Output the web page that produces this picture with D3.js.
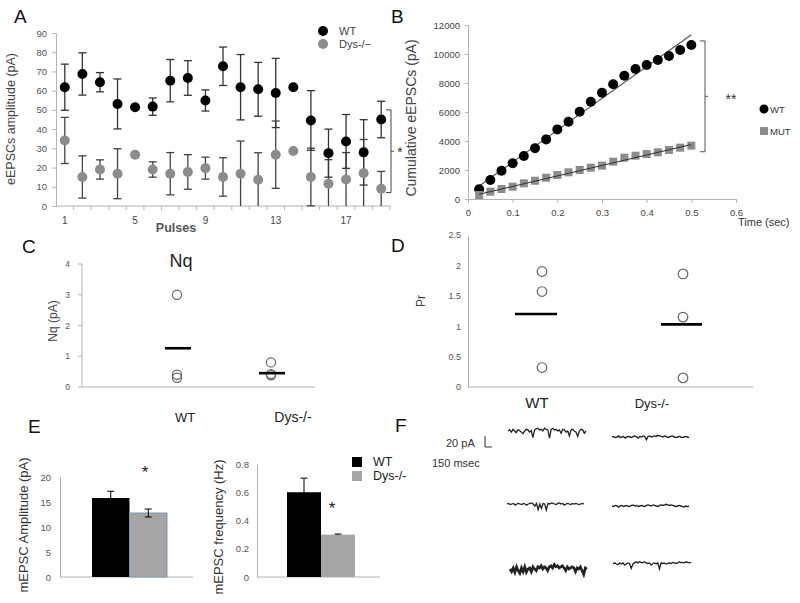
<!DOCTYPE html>
<html><head><meta charset="utf-8">
<script src="https://cdn.jsdelivr.net/npm/d3@7"></script>
<style>body{margin:0;background:#fff}svg{display:block}text{font-family:"Liberation Sans",Arial,sans-serif}</style>
</head><body><svg id="c" width="800" height="603"></svg>
<script>
// ---------- DATA ----------
// Panel A
const pulses = [1,2,3,4,5,6,7,8,9,10,11,12,13,14,15,16,17,18,19];
const pulseTicks = [1,5,9,13,17];
const ampTicks = [0,10,20,30,40,50,60,70,80,90];
const wtAmp = [61.8,68.7,64.4,53.1,51.4,51.7,65.2,66.6,54.9,72.7,61.8,60.7,58.8,61.8,44.5,27.5,33.6,27.9,45.0];
const wtAmpErr = [12,11,5,13,0,4.5,11,9,5.5,10,17,14,18,0,15.5,12.5,14,17,9.5];
const dysAmp = [34.1,15.1,19.0,16.8,26.7,19.0,16.8,17.7,19.7,15.1,16.8,13.7,26.7,28.6,15.1,11.6,13.8,17.1,9.0];
const dysAmpErr = [12,11,5,13,0,4,11,9,5.7,10,17,14,17.5,0,15,12.5,14,17.5,9];
// Panel B
const timeSec = [0.025,0.05,0.075,0.1,0.125,0.15,0.175,0.2,0.225,0.25,0.275,0.3,0.325,0.35,0.375,0.4,0.425,0.45,0.475,0.5];
const wtCum = [670,1310,1950,2460,2970,3500,4110,4800,5330,6020,6710,7330,7910,8500,8970,9240,9590,9860,10280,10620];
const mutCum = [276,506,690,850,1080,1260,1470,1655,1840,2000,2160,2300,2575,2850,2990,3100,3220,3380,3540,3680];
const wtFit = [[0.025,900],[0.5,11330]];
const mutFit = [[0.025,330],[0.5,3760]];
const cumTicks = [0,2000,4000,6000,8000,10000,12000];
const timeTicks = [0,0.1,0.2,0.3,0.4,0.5,0.6];
// Panels C, D
const groups = ["WT","Dys-/-"];
const nqWT = [3.0,0.4,0.3];
const nqDys = [0.8,0.42,0.38];
const nqMean = [1.26,0.45];
const nqTicks = [0,1,2,3,4];
const prWT = [1.9,1.57,0.32];
const prDys = [1.86,1.15,0.15];
const prMean = [1.2,1.03];
const prTicks = [0,0.5,1,1.5,2,2.5];
// Panel E
const ampMean = [15.8,12.8];
const ampErr = [1.35,0.8];
const ampBarTicks = [0,5,10,15,20];
const freqMean = [0.6,0.3];
const freqErr = [0.1,0.004];
const freqTicks = [0,0.2,0.4,0.6,0.8];
// Panel F (traces, pA relative to baseline)
const traceWT1 = [0,2,-2,3,0,-3,2,1,-2,-5,0,3,2,-2,1,-12,2,4,5,2,3,0,5,3,2,-13,3,5,2,3,0,2,-4,3,2,-2,0,-9,2,3,0,-2,-10,0,3,2,-4,0];
const traceDys1 = [0,1,-1,0,2,-1,0,1,-2,0,1,0,-1,1,2,0,-2,1,0,2,1,-5,1,2,0,1,2,1,3,2,1,0,2,1,-1,0,1,2,0,-1,0,1,0,-1,0,1,0,-1];
const traceWT2 = [0,1,-1,0,1,-2,0,1,0,-1,1,0,-2,0,1,2,0,-4,1,-10,0,-8,1,0,-11,1,0,2,1,0,-1,1,2,0,1,-2,0,1,0,-1,1,0,1,0,-1,0,1,0];
const traceDys2 = [0,-1,1,0,-2,0,1,-1,0,1,-1,0,1,2,0,1,-1,0,1,0,-1,1,2,1,0,2,1,0,-1,1,2,1,2,3,2,1,2,1,0,-1,0,1,0,-1,-2,0,-1,0];
const traceWT3 = [0,-5,2,-6,4,-3,-8,2,-5,4,-6,0,2,-5,4,0,-3,4,2,6,0,4,2,-3,4,6,2,8,4,6,2,4,6,2,-3,4,0,2,4,2,-5,2,0,4,-3,-10,2,0];
const traceDys3 = [0,2,0,-1,2,0,2,-2,0,2,1,-8,0,2,4,2,4,3,2,4,2,1,2,-2,1,2,0,2,-9,2,1,2,0,1,2,1,3,2,1,2,4,2,3,2,4,3,2,3];

// ---------- DRAW ----------
const svg = d3.select("#c");
const AX = "#b3b3b3", TT = "#555";

function styleAxis(g, fs){
  g.select(".domain").attr("stroke", AX);
  g.selectAll(".tick line").attr("stroke", AX);
  g.selectAll(".tick text").attr("fill", TT).attr("font-size", fs).attr("font-family","Liberation Sans, Arial, sans-serif");
}
function letter(t,x,y){ svg.append("text").attr("x",x).attr("y",y).attr("font-size",19).attr("fill","#111").text(t); }
function vtitle(t,x,y,fs,col){ svg.append("text").attr("transform",`translate(${x},${y}) rotate(-90)`).attr("text-anchor","middle").attr("font-size",fs).attr("fill",col||"#444").text(t); }

letter("A",14,23); letter("B",391,23); letter("C",22,253); letter("D",391,252); letter("E",28,433); letter("F",395,432);

// ===== Panel A =====
const xA = d3.scaleBand().domain(pulses).range([56,390]);
const yA = d3.scaleLinear().domain([0,90]).range([206,33]);
const gA = svg.append("g");
gA.append("g").attr("transform","translate(56,0)").call(d3.axisLeft(yA).tickValues(ampTicks).tickSize(4).tickPadding(5)).call(styleAxis,9.5);
gA.append("line").attr("x1",56).attr("x2",390).attr("y1",yA(0)).attr("y2",yA(0)).attr("stroke",AX);
gA.selectAll(".xtA").data(pulses).join("line").attr("x1",d=>xA(d)+xA.bandwidth()).attr("x2",d=>xA(d)+xA.bandwidth())
  .attr("y1",yA(0)).attr("y2",yA(0)+4).attr("stroke",AX);
gA.selectAll(".xlA").data(pulseTicks).join("text").attr("x",d=>xA(d)+xA.bandwidth()/2).attr("y",224)
  .attr("text-anchor","middle").attr("font-size",10).attr("fill","#444").text(d=>d);
gA.append("text").attr("x",176).attr("y",232).attr("text-anchor","middle").attr("font-size",12.5).attr("font-weight","bold").attr("fill","#555").text("Pulses");
vtitle("eEPSCs amplitude (pA)",15,119,12.5);

function errBars(g, vals, errs, col){
  pulses.forEach((p,i)=>{
    const e = errs[i]; if(!e) return;
    const cx = xA(p)+xA.bandwidth()/2;
    const lo = Math.max(0, vals[i]-e), hi = vals[i]+e;
    g.append("line").attr("x1",cx).attr("x2",cx).attr("y1",yA(lo)).attr("y2",yA(hi)).attr("stroke",col).attr("stroke-width",1.3);
    g.append("line").attr("x1",cx-4).attr("x2",cx+4).attr("y1",yA(hi)).attr("y2",yA(hi)).attr("stroke",col).attr("stroke-width",1.3);
    if(lo>0) g.append("line").attr("x1",cx-4).attr("x2",cx+4).attr("y1",yA(lo)).attr("y2",yA(lo)).attr("stroke",col).attr("stroke-width",1.3);
  });
}
errBars(gA, dysAmp, dysAmpErr, "#444");
errBars(gA, wtAmp, wtAmpErr, "#333");
gA.selectAll(".dysA").data(dysAmp).join("circle").attr("cx",(d,i)=>xA(pulses[i])+xA.bandwidth()/2).attr("cy",d=>yA(d)).attr("r",5).attr("fill","#8c8c8c");
gA.selectAll(".wtA").data(wtAmp).join("circle").attr("cx",(d,i)=>xA(pulses[i])+xA.bandwidth()/2).attr("cy",d=>yA(d)).attr("r",5).attr("fill","#000");
// legend A
gA.append("circle").attr("cx",323).attr("cy",31).attr("r",5).attr("fill","#000");
gA.append("circle").attr("cx",323).attr("cy",44).attr("r",5).attr("fill","#8c8c8c");
gA.append("text").attr("x",339).attr("y",35).attr("font-size",11).attr("fill","#444").text("WT");
gA.append("text").attr("x",339).attr("y",48).attr("font-size",11).attr("fill","#444").text("Dys-/−");
// bracket A
const bA = gA.append("g").attr("stroke","#444").attr("fill","none");
bA.append("path").attr("d",`M386,${yA(50)}H391V${yA(7)}H386`);
bA.append("line").attr("x1",391).attr("x2",394).attr("y1",(yA(50)+yA(7))/2).attr("y2",(yA(50)+yA(7))/2);
gA.append("text").attr("x",400).attr("y",(yA(50)+yA(7))/2+6).attr("text-anchor","middle").attr("font-size",14).attr("fill","#333").text("*");

// ===== Panel B =====
const xB = d3.scaleLinear().domain([0,0.6]).range([468,736]);
const yB = d3.scaleLinear().domain([0,12000]).range([199,25]);
const gB = svg.append("g");
gB.append("g").attr("transform","translate(468,0)").call(d3.axisLeft(yB).tickValues(cumTicks).tickSize(3).tickPadding(5).tickFormat(d3.format("d"))).call(styleAxis,9.5);
gB.append("g").attr("transform","translate(0,199)").call(d3.axisBottom(xB).tickValues(timeTicks).tickSize(4).tickPadding(6).tickFormat(d=>d===0?"0":d3.format(".1f")(d))).call(styleAxis,9.5);
gB.selectAll(".tick text").attr("fill","#444");
gB.append("text").attr("x",738).attr("y",226).attr("font-size",11).attr("fill","#333").text("Time (sec)");
vtitle("Cumulative eEPSCs (pA)",416,118,14);
gB.append("path").attr("d",d3.line().x(d=>xB(d[0])).y(d=>yB(d[1]))(wtFit)).attr("stroke","#555").attr("fill","none").attr("stroke-width",1.1);
gB.selectAll(".wtB").data(wtCum).join("circle").attr("cx",(d,i)=>xB(timeSec[i])).attr("cy",d=>yB(d)).attr("r",5).attr("fill","#000");
gB.selectAll(".mutB").data(mutCum).join("rect").attr("x",(d,i)=>xB(timeSec[i])-4).attr("y",d=>yB(d)-4).attr("width",8).attr("height",8).attr("fill","#8c8c8c");
gB.append("path").attr("d",d3.line().x(d=>xB(d[0])).y(d=>yB(d[1]))(mutFit)).attr("stroke","#333").attr("fill","none").attr("stroke-width",1.1);
// bracket B
const bB = gB.append("g").attr("stroke","#555").attr("fill","none");
const bt = yB(10900), bb = yB(3260);
bB.append("path").attr("d",`M700,${bt}H705V${bb}H700`);
bB.append("line").attr("x1",705).attr("x2",708).attr("y1",(bt+bb)/2).attr("y2",(bt+bb)/2);
gB.append("text").attr("x",731).attr("y",(bt+bb)/2+8).attr("text-anchor","middle").attr("font-size",14).attr("fill","#333").text("**");
// legend B
gB.append("circle").attr("cx",764).attr("cy",109).attr("r",4.5).attr("fill","#000");
gB.append("text").attr("x",770).attr("y",113).attr("font-size",9.5).attr("fill","#333").text("WT");
gB.append("rect").attr("x",760).attr("y",127).attr("width",8).attr("height",8).attr("fill","#8c8c8c");
gB.append("text").attr("x",770).attr("y",135).attr("font-size",9.5).attr("fill","#333").text("MUT");

// ===== Panel C =====
const xC = d3.scalePoint().domain(groups).range([177,271]);
const yC = d3.scaleLinear().domain([0,4]).range([387,264]);
const gC = svg.append("g");
gC.append("line").attr("x1",82).attr("x2",82).attr("y1",yC(4)).attr("y2",yC(0)).attr("stroke",AX);
gC.append("line").attr("x1",82).attr("x2",315).attr("y1",yC(0)).attr("y2",yC(0)).attr("stroke",AX);
gC.selectAll(".ytC").data(nqTicks).join("line").attr("x1",78).attr("x2",82).attr("y1",d=>yC(d)).attr("y2",d=>yC(d)).attr("stroke",AX);
gC.selectAll(".ylC").data(nqTicks).join("text").attr("x",70).attr("y",d=>yC(d)+3).attr("text-anchor","end").attr("font-size",8.5).attr("fill",TT).text(d=>d);
vtitle("Nq (pA)",57,321,12);
gC.append("text").attr("x",181).attr("y",267).attr("text-anchor","middle").attr("font-size",18).attr("fill","#222").text("Nq");
const nqSets=[nqWT,nqDys];
groups.forEach((g,i)=>{
  gC.selectAll(".c"+i).data(nqSets[i]).join("circle").attr("cx",xC(g)).attr("cy",d=>yC(d)).attr("r",4.6).attr("fill","none").attr("stroke","#666").attr("stroke-width",1.2);
  gC.append("line").attr("x1",xC(g)-12).attr("x2",xC(g)+14).attr("y1",yC(nqMean[i])).attr("y2",yC(nqMean[i])).attr("stroke","#000").attr("stroke-width",2.6);
});
gC.append("text").attr("x",xC("WT")+8).attr("y",422).attr("text-anchor","middle").attr("font-size",13).attr("fill","#222").text("WT");
gC.append("text").attr("x",xC("Dys-/-")+22).attr("y",422).attr("text-anchor","middle").attr("font-size",14).attr("fill","#222").text("Dys-/-");

// ===== Panel D =====
const xD = d3.scalePoint().domain(groups).range([542,683]);
const yD = d3.scaleLinear().domain([0,2.5]).range([387,235]);
const gD = svg.append("g");
gD.append("g").attr("transform","translate(468,0)").call(d3.axisLeft(yD).tickValues(prTicks).tickSize(0).tickPadding(7).tickFormat(d=>d)).call(styleAxis,9);
gD.append("line").attr("x1",468).attr("x2",753).attr("y1",yD(0)).attr("y2",yD(0)).attr("stroke",AX);
vtitle("Pr",425,301,12);
const prSets=[prWT,prDys];
groups.forEach((g,i)=>{
  gD.selectAll(".d"+i).data(prSets[i]).join("circle").attr("cx",xD(g)).attr("cy",d=>yD(d)).attr("r",4.8).attr("fill","none").attr("stroke","#666").attr("stroke-width",1.2);
  gD.append("line").attr("x1",xD(g)-(i?22:27)).attr("x2",xD(g)+(i?19:15)).attr("y1",yD(prMean[i])).attr("y2",yD(prMean[i])).attr("stroke","#000").attr("stroke-width",2.6);
});
gD.append("text").attr("x",xD("WT")-5).attr("y",408).attr("text-anchor","middle").attr("font-size",15).attr("fill","#222").text("WT");
gD.append("text").attr("x",xD("Dys-/-")-31).attr("y",408).attr("text-anchor","middle").attr("font-size",13).attr("fill","#222").text("Dys-/-");

// ===== Panel E =====
const colE = ["#000","#a6a6a6"];
// E1
const xE1 = d3.scaleBand().domain(groups).range([92,167]);
const yE1 = d3.scaleLinear().domain([0,20]).range([577,477]);
const gE = svg.append("g");
gE.append("g").attr("transform","translate(60,0)").call(d3.axisLeft(yE1).tickValues(ampBarTicks).tickSize(0).tickPadding(9)).call(styleAxis,9.5);
gE.append("line").attr("x1",60).attr("x2",193).attr("y1",577).attr("y2",577).attr("stroke",AX);
gE.selectAll(".bE1").data(ampMean).join("rect").attr("x",(d,i)=>xE1(groups[i])).attr("y",d=>yE1(d)).attr("width",xE1.bandwidth()).attr("height",d=>577-yE1(d))
  .attr("fill",(d,i)=>colE[i]).attr("stroke",(d,i)=>i?"#7d96b3":"none").attr("stroke-width",1);
ampMean.forEach((m,i)=>{
  const cx=xE1(groups[i])+xE1.bandwidth()/2;
  gE.append("line").attr("x1",cx).attr("x2",cx).attr("y1",yE1(m-ampErr[i])).attr("y2",yE1(m+ampErr[i])).attr("stroke","#000");
  gE.append("line").attr("x1",cx-3.5).attr("x2",cx+3.5).attr("y1",yE1(m+ampErr[i])).attr("y2",yE1(m+ampErr[i])).attr("stroke","#000");
  gE.append("line").attr("x1",cx-3.5).attr("x2",cx+3.5).attr("y1",yE1(m-ampErr[i])).attr("y2",yE1(m-ampErr[i])).attr("stroke","#000");
});
gE.append("text").attr("x",145).attr("y",478).attr("text-anchor","middle").attr("font-size",17).attr("fill","#222").text("*");
vtitle("mEPSC Amplitude (pA)",28,525,13,"#333");
// E2
const xE2 = d3.scaleBand().domain(groups).range([287,355]);
const yE2 = d3.scaleLinear().domain([0,0.8]).range([577,464]);
gE.append("g").attr("transform","translate(257,0)").call(d3.axisLeft(yE2).tickValues(freqTicks).tickSize(0).tickPadding(8).tickFormat(d=>d)).call(styleAxis,9.5);
gE.append("line").attr("x1",257).attr("x2",380).attr("y1",577).attr("y2",577).attr("stroke",AX);
gE.selectAll(".bE2").data(freqMean).join("rect").attr("x",(d,i)=>xE2(groups[i])).attr("y",d=>yE2(d)).attr("width",xE2.bandwidth()).attr("height",d=>577-yE2(d)).attr("fill",(d,i)=>colE[i]);
freqMean.forEach((m,i)=>{
  const cx=xE2(groups[i])+xE2.bandwidth()/2;
  gE.append("line").attr("x1",cx).attr("x2",cx).attr("y1",yE2(m-freqErr[i])).attr("y2",yE2(m+freqErr[i])).attr("stroke","#000");
  gE.append("line").attr("x1",cx-3.5).attr("x2",cx+3.5).attr("y1",yE2(m+freqErr[i])).attr("y2",yE2(m+freqErr[i])).attr("stroke","#000");
});
gE.append("text").attr("x",332).attr("y",514).attr("text-anchor","middle").attr("font-size",17).attr("fill","#222").text("*");
vtitle("mEPSC frequency (Hz)",223,527,13,"#333");
// legend E
gE.append("rect").attr("x",352).attr("y",457).attr("width",10).attr("height",10).attr("fill","#000");
gE.append("rect").attr("x",352).attr("y",471).attr("width",10).attr("height",10).attr("fill","#a6a6a6");
gE.append("text").attr("x",373).attr("y",466).attr("font-size",12.5).attr("fill","#222").text("WT");
gE.append("text").attr("x",373).attr("y",480).attr("font-size",12.5).attr("fill","#222").text("Dys-/-");

// ===== Panel F =====
const gF = svg.append("g");
const traces = [[traceWT1,508,586,431,1.3],[traceDys1,612,689,437,1.4],[traceWT2,507,584,504,1.3],[traceDys2,612,689,506,1.4],[traceWT3,510,587,569,2.6],[traceDys3,613,691,564,1.3]];
traces.forEach(([tr,x0,x1,yb,w])=>{
  const xs = d3.scaleLinear().domain([0,tr.length-1]).range([x0,x1]);
  const ys = d3.scaleLinear().domain([-20,0]).range([yb+11,yb]);
  gF.append("path").attr("d",d3.line().x((d,i)=>xs(i)).y(d=>ys(d))(tr)).attr("fill","none").attr("stroke","#222").attr("stroke-width",w);
});
gF.append("path").attr("d","M485,436V447H492").attr("fill","none").attr("stroke","#333").attr("stroke-width",1);
gF.append("text").attr("x",446).attr("y",447).attr("font-size",11).attr("fill","#333").text("20 pA");
gF.append("text").attr("x",432).attr("y",467).attr("font-size",11).attr("fill","#333").text("150 msec");
</script></body></html>
